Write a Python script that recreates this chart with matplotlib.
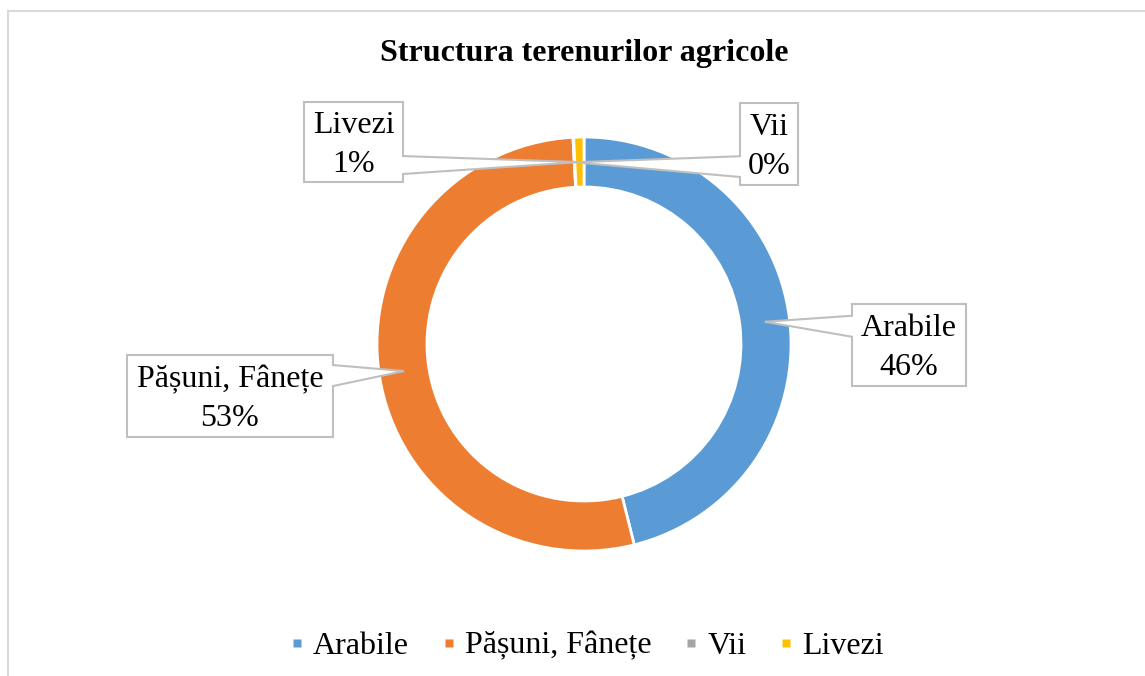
import matplotlib.pyplot as plt
import numpy as np
from matplotlib.lines import Line2D
from matplotlib.patches import Polygon, Rectangle

## DATA ##

title = "Structura terenurilor agricole"
categories = ["Arabile", "Pășuni, Fânețe", "Vii", "Livezi"]
shares = [46.1, 53.05, 0.05, 0.8]  # percent of total agricultural land
colors = ["#5B9BD5", "#ED7D31", "#A5A5A5", "#FFC000"]

## LAYOUT (pixels, y measured from the top) ##

W, H = 1145, 676
cx, cy = 584, 344        # donut centre
r_out, ring = 207, 50    # outer radius and ring thickness

# callout boxes: left, top, right, bottom
boxes = {
    "Arabile": (852, 304, 966, 386),
    "Pășuni, Fânețe": (127, 355, 333, 437),
    "Vii": (740, 103, 798, 185),
    "Livezi": (304, 102, 403, 182),
}

def fy(y):
    return H - y

plt.rcParams['font.family'] = ['Liberation Serif', 'DejaVu Serif']

fig = plt.figure(figsize=(W / 100, H / 100), dpi=100)
ax = fig.add_axes([0, 0, 1, 1])

wedges, _ = ax.pie(shares, colors=colors, startangle=90, counterclock=False,
                   center=(cx, fy(cy)), radius=r_out,
                   wedgeprops=dict(width=ring, edgecolor='white', linewidth=2))

ax.set_xlim(0, W)
ax.set_ylim(0, H)
ax.set_aspect('equal')
ax.axis('off')

# chart frame (only left and top edge visible in the picture)
ax.add_patch(Rectangle((8, -20), W + 40, fy(11) + 20, fill=False,
                       edgecolor='#D9D9D9', linewidth=1.5))

ax.text(cx, fy(53), title, ha='center', va='center', fontsize=23, fontweight='bold')

## CALLOUT LABELS ##

total = sum(shares)
r_mid = r_out - ring / 2
for w, name, v in zip(wedges, categories, shares):
    ang = np.deg2rad((w.theta1 + w.theta2) / 2)
    tx = cx + r_mid * np.cos(ang)
    ty = fy(cy) + r_mid * np.sin(ang)
    x0, y0, x1, y1 = boxes[name]
    y0, y1 = fy(y0), fy(y1)
    # pointer base sits around the height of the tip
    b_hi = min(ty + 6, y0 - 8)
    b_lo = max(b_hi - 21, y1 + 8)
    if tx > x1:
        pts = [(x0, y0), (x1, y0), (x1, b_hi), (tx, ty),
               (x1, b_lo), (x1, y1), (x0, y1)]
    else:
        pts = [(x0, y0), (x1, y0), (x1, y1), (x0, y1),
               (x0, b_lo), (tx, ty), (x0, b_hi)]
    ax.add_patch(Polygon(pts, closed=True, facecolor='white',
                         edgecolor='#BFBFBF', linewidth=1.5, zorder=3))
    ax.text((x0 + x1) / 2, (y0 + y1) / 2 - 3, f"{name}\n{round(v / total * 100):.0f}%",
            ha='center', va='center', fontsize=23, linespacing=1.42, zorder=4)

## LEGEND ##

handles = [Line2D([], [], linestyle='none', marker='s', markersize=6,
                  markerfacecolor=c, markeredgecolor='none') for c in colors]
fig.legend(handles, categories, loc='center', bbox_to_anchor=(588 / W, 1 - 646 / H),
           ncol=4, frameon=False, fontsize=23, handlelength=0.3,
           handletextpad=0.35, columnspacing=1.1)

plt.savefig("out.png", dpi=100)
